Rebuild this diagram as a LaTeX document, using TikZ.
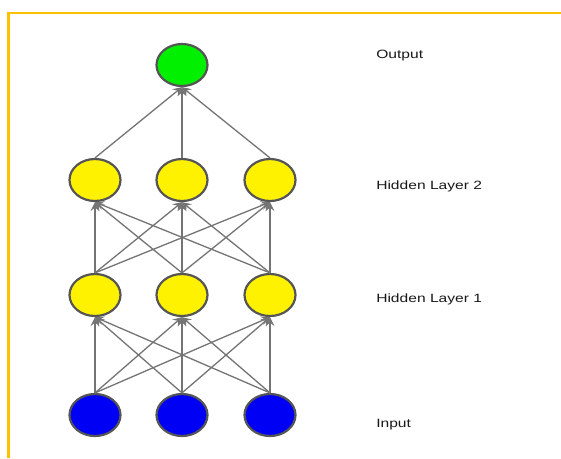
\documentclass[tikz,border=0pt]{standalone}
\usepackage{fontspec}
\setmainfont{Liberation Sans}
\usetikzlibrary{arrows.meta,shapes.geometric}
\definecolor{frameorange}{HTML}{FFC000}
\definecolor{edgegray}{HTML}{747474}
\definecolor{ringgray}{HTML}{555555}
\definecolor{nodegreen}{HTML}{00F000}
\definecolor{nodeyellow}{HTML}{FFF200}
\definecolor{nodeblue}{HTML}{0000F5}
\begin{document}
\begin{tikzpicture}[x=1pt,y=-1pt,
  neuron/.style={ellipse,draw=ringgray,line width=2.2pt,minimum width=51pt,minimum height=42pt,inner sep=0pt},
  conn/.style={draw=edgegray,line width=1.3pt,-{Stealth[length=9pt,width=9pt,inset=3.5pt]}},
  lbl/.style={anchor=base west,inner sep=0pt,font=\fontsize{12}{14}\selectfont,text=black!90,xscale=1.3}]
\useasboundingbox (0,0) rectangle (561,458);
\fill[white] (0,0) rectangle (561,458);
\draw[frameorange,line width=2.6pt] (8.7,458) -- (8.7,12.8) -- (561,12.8);

\node[neuron,fill=nodegreen] (o) at (182,65) {};
\node[neuron,fill=nodeyellow] (h21) at (95,180) {};
\node[neuron,fill=nodeyellow] (h22) at (182,180) {};
\node[neuron,fill=nodeyellow] (h23) at (270,180) {};
\node[neuron,fill=nodeyellow] (h11) at (95,295) {};
\node[neuron,fill=nodeyellow] (h12) at (182,295) {};
\node[neuron,fill=nodeyellow] (h13) at (270,295) {};
\node[neuron,fill=nodeblue] (i1) at (95,415) {};
\node[neuron,fill=nodeblue] (i2) at (182,415) {};
\node[neuron,fill=nodeblue] (i3) at (270,415) {};

\foreach \s in {1,2,3}{
  \foreach \t in {1,2,3}{
    \draw[conn] (i\s.north) -- (h1\t.south);
    \draw[conn] (h1\s.north) -- (h2\t.south);
  }
  \draw[conn] (h2\s.north) -- (o.south);
}

\node[lbl] (lo) at (376,58) {Output};
\node[lbl] (l2) at (376,189) {Hidden Layer 2};
\node[lbl] (l1) at (376,302) {Hidden Layer 1};
\node[lbl] (li) at (376,427) {Input};
\end{tikzpicture}
\end{document}
